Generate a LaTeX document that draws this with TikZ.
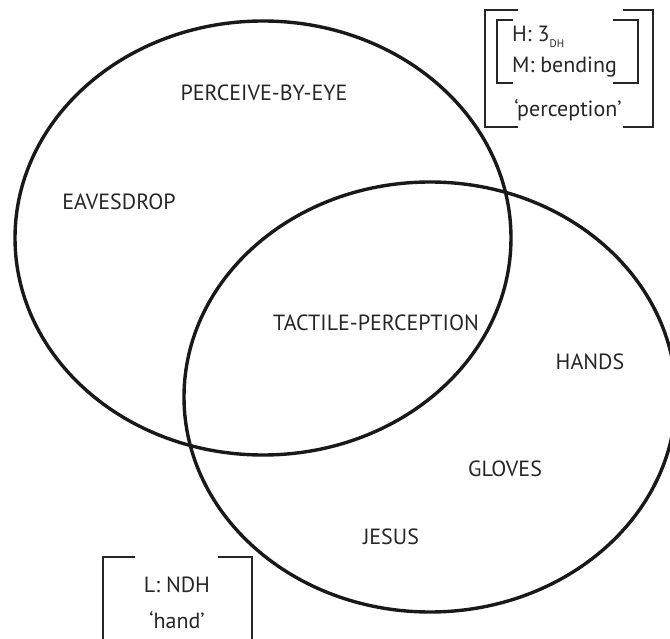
\documentclass[tikz,border=0pt]{standalone}
\usepackage{fontspec}
\setmainfont{PT Sans}
\begin{document}
\begin{tikzpicture}[x=1pt,y=-1pt,
  setline/.style={line width=3.4pt,draw=black!90},
  brk/.style={line width=2.1pt,draw=black!85},
  lbl/.style={font=\fontsize{22}{26}\selectfont,text=black!85,inner sep=0pt}]
\useasboundingbox (0,0) rectangle (670,639);
% the two overlapping sets
\draw[setline] (263,238) ellipse [x radius=248,y radius=217];
\draw[setline] (430,397) ellipse [x radius=246,y radius=215];
% set members
\node[lbl] (pbe) at (264,93) {PERCEIVE-BY-EYE};
\node[lbl] (eav) at (119,202) {EAVESDROP};
\node[lbl] (tac) at (376,323) {TACTILE-PERCEPTION};
\node[lbl] (hands) at (590,362) {HANDS};
\node[lbl] (gloves) at (505,469) {GLOVES};
\node[lbl] (jesus) at (391,537) {JESUS};
% feature matrix for 'perception'
\node[lbl,anchor=west] (hs) at (512,37) {H: 3\raisebox{-0.6ex}{\fontsize{11}{12}\selectfont DH}};
\node[lbl,anchor=west] (ms) at (512,67) {M: bending};
\node[lbl] (perc) at (568,110) {`perception'};
\draw[brk] (518,10) -- (485,10) -- (485,127) -- (518,127);
\draw[brk] (623,10) -- (653,10) -- (653,127) -- (623,127);
\draw[brk] (513,20) -- (497,20) -- (497,83) -- (513,83);
\draw[brk] (613,20) -- (638,20) -- (638,83) -- (613,83);
% feature matrix for 'hand'
\node[lbl] (ls) at (177,585) {L: NDH};
\node[lbl] (hand) at (177,620) {`hand'};
\draw[brk] (135,557) -- (103,557) -- (103,645);
\draw[brk] (218,557) -- (252,557) -- (252,645);
\end{tikzpicture}
\end{document}
